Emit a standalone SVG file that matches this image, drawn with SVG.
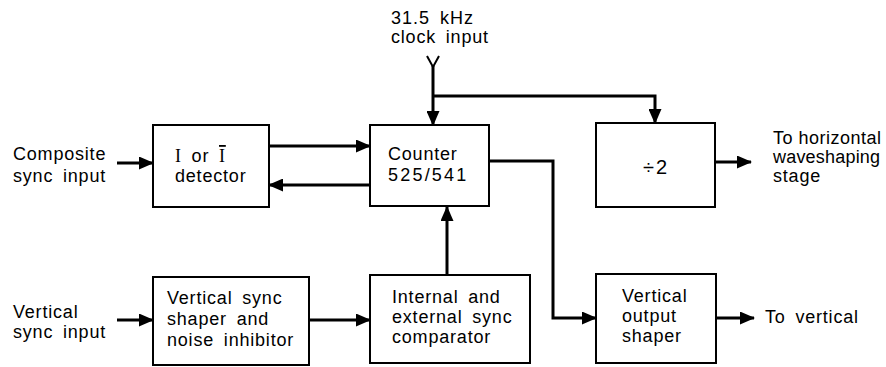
<svg xmlns="http://www.w3.org/2000/svg" width="886" height="367" viewBox="0 0 886 367">
<style>
text{font-family:"Liberation Sans",Arial,sans-serif;font-size:18px;fill:#000;letter-spacing:0.8px;word-spacing:4px}
.box{fill:#fff;stroke:#000;stroke-width:2}
.wire{fill:none;stroke:#000;stroke-width:3}
.arr{marker-end:url(#ah)}
.serif{font-family:"Liberation Serif","Times New Roman",serif}
</style>
<defs>
<marker id="ah" markerUnits="userSpaceOnUse" markerWidth="15" markerHeight="13" refX="14" refY="6.5" orient="auto" viewBox="0 0 15 13">
<path d="M0,0 L15,6.5 L0,13 z" fill="#000"/>
</marker>
</defs>
<rect width="886" height="367" fill="#fff"/>

<g id="connectors">
<path class="wire arr" d="M117,163 H153"/>
<path class="wire arr" d="M269,146 H370"/>
<path class="wire arr" d="M370,185 H269"/>
<path d="M427,56 L433,67 L439,56" fill="none" stroke="#000" stroke-width="2"/>
<path class="wire arr" d="M433,66 V125"/>
<path class="wire arr" d="M433,96 H655 V123"/>
<path class="wire arr" d="M715,162 H751"/>
<path class="wire arr" d="M489,161 H553 V318 H596"/>
<path class="wire arr" d="M117,320 H153"/>
<path class="wire arr" d="M309,320 H370"/>
<path class="wire arr" d="M447,275 V207"/>
<path class="wire arr" d="M716,318 H754"/>
</g>

<g id="composite-label">
<text x="13" y="160">Composite</text>
<text x="13" y="182">sync input</text>
</g>

<g id="detector">
<rect class="box" x="153" y="125" width="116" height="82"/>
<text x="175" y="162"><tspan class="serif">I</tspan> or <tspan class="serif" text-decoration="overline">I</tspan></text>
<text x="175" y="182">detector</text>
</g>

<g id="clock-label">
<text x="391" y="24" style="letter-spacing:1px">31.5 kHz</text>
<text x="391" y="43" style="letter-spacing:0.8px">clock input</text>
</g>

<g id="counter">
<rect class="box" x="370" y="125" width="119" height="81"/>
<text x="388" y="160">Counter</text>
<text x="388" y="181" style="letter-spacing:2.2px">525/541</text>
</g>

<g id="divider">
<rect class="box" x="596" y="123" width="119" height="84"/>
<text x="656" y="174" text-anchor="middle" style="font-size:20px;letter-spacing:2px">÷2</text>
</g>

<g id="horizontal-label">
<text x="773" y="144" style="letter-spacing:0.5px;word-spacing:0">To horizontal</text>
<text x="773" y="163" style="letter-spacing:0.2px">waveshaping</text>
<text x="773" y="182">stage</text>
</g>

<g id="vertical-label">
<text x="13" y="318">Vertical</text>
<text x="13" y="338">sync input</text>
</g>

<g id="shaper">
<rect class="box" x="153" y="277" width="156" height="88"/>
<text x="167" y="304">Vertical sync</text>
<text x="167" y="325">shaper and</text>
<text x="167" y="346">noise inhibitor</text>
</g>

<g id="comparator">
<rect class="box" x="370" y="275" width="160" height="88"/>
<text x="392" y="303">Internal and</text>
<text x="392" y="323">external sync</text>
<text x="392" y="343">comparator</text>
</g>

<g id="vertical-output">
<rect class="box" x="596" y="274" width="120" height="89"/>
<text x="622" y="302">Vertical</text>
<text x="622" y="322">output</text>
<text x="622" y="342">shaper</text>
</g>

<g id="to-vertical-label">
<text x="765" y="323">To vertical</text>
</g>
</svg>
